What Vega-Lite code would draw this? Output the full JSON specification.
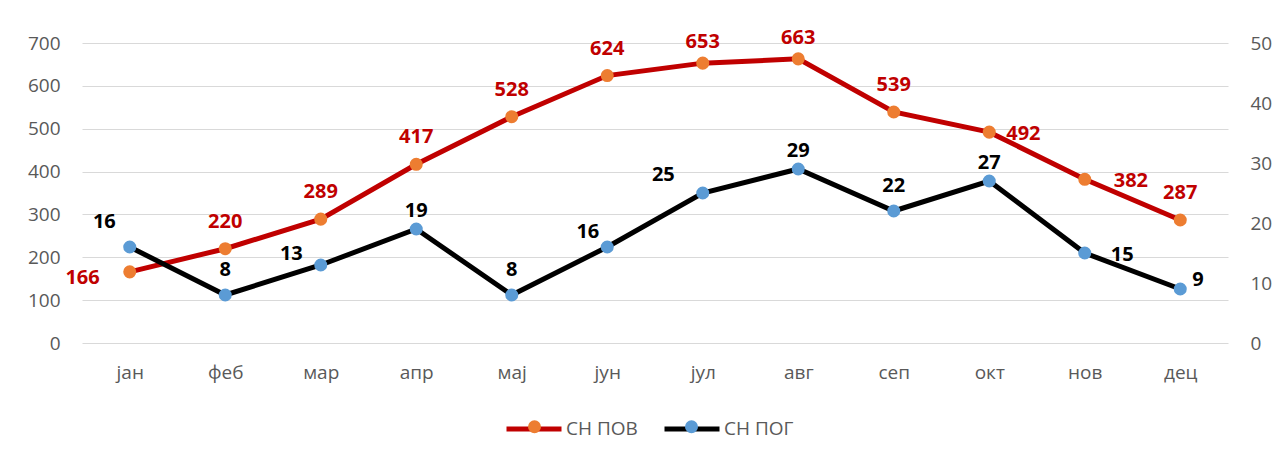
{
  "$schema": "https://vega.github.io/schema/vega-lite/v6.json",
  "width": 1146,
  "height": 300,
  "autosize": {"type": "none"},
  "padding": {"left": 82, "top": 43, "right": 53, "bottom": 114},
  "background": "white",
  "config": {
    "view": {"stroke": null},
    "font": "Open Sans",
    "axis": {"labelFont": "Open Sans", "labelFontSize": 19, "labelColor": "#595959", "domain": false, "ticks": false, "title": null}
  },
  "data": {"values": [
    {"month": "јан", "series": "СН ПОВ", "value": 166},
    {"month": "феб", "series": "СН ПОВ", "value": 220},
    {"month": "мар", "series": "СН ПОВ", "value": 289},
    {"month": "апр", "series": "СН ПОВ", "value": 417},
    {"month": "мај", "series": "СН ПОВ", "value": 528},
    {"month": "јун", "series": "СН ПОВ", "value": 624},
    {"month": "јул", "series": "СН ПОВ", "value": 653},
    {"month": "авг", "series": "СН ПОВ", "value": 663},
    {"month": "сеп", "series": "СН ПОВ", "value": 539},
    {"month": "окт", "series": "СН ПОВ", "value": 492},
    {"month": "нов", "series": "СН ПОВ", "value": 382},
    {"month": "дец", "series": "СН ПОВ", "value": 287},
    {"month": "јан", "series": "СН ПОГ", "value": 16},
    {"month": "феб", "series": "СН ПОГ", "value": 8},
    {"month": "мар", "series": "СН ПОГ", "value": 13},
    {"month": "апр", "series": "СН ПОГ", "value": 19},
    {"month": "мај", "series": "СН ПОГ", "value": 8},
    {"month": "јун", "series": "СН ПОГ", "value": 16},
    {"month": "јул", "series": "СН ПОГ", "value": 25},
    {"month": "авг", "series": "СН ПОГ", "value": 29},
    {"month": "сеп", "series": "СН ПОГ", "value": 22},
    {"month": "окт", "series": "СН ПОГ", "value": 27},
    {"month": "нов", "series": "СН ПОГ", "value": 15},
    {"month": "дец", "series": "СН ПОГ", "value": 9}
  ]},
  "encoding": {
    "x": {
      "field": "month", "type": "nominal",
      "sort": ["јан", "феб", "мар", "апр", "мај", "јун", "јул", "авг", "сеп", "окт", "нов", "дец"],
      "scale": {"type": "point", "padding": 0.5},
      "axis": {"labelAngle": 0, "labelPadding": 20, "grid": false}
    }
  },
  "layer": [
    {
      "transform": [{"filter": "datum.series === 'СН ПОВ'"}],
      "encoding": {
        "y": {"field": "value", "type": "quantitative",
          "scale": {"domain": [0, 700], "nice": false},
          "axis": {"orient": "left", "values": [0, 100, 200, 300, 400, 500, 600, 700], "grid": true, "gridColor": "#D9D9D9", "gridWidth": 1, "labelPadding": 22}}
      },
      "layer": [
        {
          "mark": {"type": "line", "strokeWidth": 5, "strokeCap": "round"},
          "encoding": {
            "stroke": {"field": "series", "type": "nominal",
              "scale": {"domain": ["СН ПОВ", "СН ПОГ"], "range": ["#C00000", "#000000"]},
              "legend": {"orient": "none", "legendX": 422, "legendY": 356, "direction": "horizontal", "title": null,
                "symbolType": "stroke", "symbolSize": 3025, "symbolStrokeWidth": 5,
                "labelFont": "Open Sans", "labelFontSize": 19, "labelColor": "#595959", "labelOffset": 2, "columnPadding": 16}}
          }
        },
        {
          "mark": {"type": "circle", "size": 170, "opacity": 1},
          "encoding": {
            "fill": {"field": "series", "type": "nominal",
              "scale": {"domain": ["СН ПОГ", "СН ПОВ"], "range": ["#5B9BD5", "#ED7D31"]},
              "legend": {"orient": "none", "legendX": 422, "legendY": 374, "direction": "horizontal", "title": null,
                "values": ["СН ПОВ", "СН ПОГ"],
                "symbolType": "circle", "symbolSize": 170, "symbolStrokeWidth": 0, "symbolOpacity": 1, "symbolOffset": 21,
                "labelFont": "Open Sans", "labelFontSize": 19, "labelColor": "#595959", "labelOpacity": 0, "labelOffset": 24, "columnPadding": 21}}
          }
        },
        {
          "transform": [{"filter": "indexof(['феб','мар','апр','мај','јун','сеп','дец'], datum.month) >= 0"}],
          "mark": {"type": "text", "fontWeight": "bold", "fontSize": 20, "color": "#C00000", "baseline": "middle", "dy": -27},
          "encoding": {"text": {"field": "value"}}
        },
        {
          "transform": [{"filter": "indexof(['јул','авг'], datum.month) >= 0"}],
          "mark": {"type": "text", "fontWeight": "bold", "fontSize": 20, "color": "#C00000", "baseline": "middle", "dy": -21},
          "encoding": {"text": {"field": "value"}}
        },
        {
          "transform": [{"filter": "datum.month === 'јан'"}],
          "mark": {"type": "text", "fontWeight": "bold", "fontSize": 20, "color": "#C00000", "baseline": "middle", "align": "right", "dx": -30, "dy": 6},
          "encoding": {"text": {"field": "value"}}
        },
        {
          "transform": [{"filter": "datum.month === 'окт'"}],
          "mark": {"type": "text", "fontWeight": "bold", "fontSize": 20, "color": "#C00000", "baseline": "middle", "align": "left", "dx": 17, "dy": 2},
          "encoding": {"text": {"field": "value"}}
        },
        {
          "transform": [{"filter": "datum.month === 'нов'"}],
          "mark": {"type": "text", "fontWeight": "bold", "fontSize": 20, "color": "#C00000", "baseline": "middle", "align": "left", "dx": 29, "dy": 2},
          "encoding": {"text": {"field": "value"}}
        }
      ]
    },
    {
      "transform": [{"filter": "datum.series === 'СН ПОГ'"}],
      "encoding": {
        "y": {"field": "value", "type": "quantitative",
          "scale": {"domain": [0, 50], "nice": false},
          "axis": {"orient": "right", "values": [0, 10, 20, 30, 40, 50], "grid": false, "labelPadding": 22, "labelAlign": "left"}}
      },
      "layer": [
        {
          "mark": {"type": "line", "strokeWidth": 5, "strokeCap": "round"},
          "encoding": {"stroke": {"field": "series", "type": "nominal"}}
        },
        {
          "mark": {"type": "circle", "size": 170, "opacity": 1},
          "encoding": {"fill": {"field": "series", "type": "nominal"}}
        },
        {
          "transform": [{"filter": "indexof(['феб','мај','сеп'], datum.month) >= 0"}],
          "mark": {"type": "text", "fontWeight": "bold", "fontSize": 20, "color": "#000000", "baseline": "middle", "dy": -25},
          "encoding": {"text": {"field": "value"}}
        },
        {
          "transform": [{"filter": "indexof(['апр','авг','окт'], datum.month) >= 0"}],
          "mark": {"type": "text", "fontWeight": "bold", "fontSize": 20, "color": "#000000", "baseline": "middle", "dy": -18},
          "encoding": {"text": {"field": "value"}}
        },
        {
          "transform": [{"filter": "datum.month === 'јан'"}],
          "mark": {"type": "text", "fontWeight": "bold", "fontSize": 20, "color": "#000000", "baseline": "middle", "align": "right", "dx": -14, "dy": -25},
          "encoding": {"text": {"field": "value"}}
        },
        {
          "transform": [{"filter": "datum.month === 'мар'"}],
          "mark": {"type": "text", "fontWeight": "bold", "fontSize": 20, "color": "#000000", "baseline": "middle", "align": "right", "dx": -18, "dy": -11},
          "encoding": {"text": {"field": "value"}}
        },
        {
          "transform": [{"filter": "datum.month === 'јун'"}],
          "mark": {"type": "text", "fontWeight": "bold", "fontSize": 20, "color": "#000000", "baseline": "middle", "align": "right", "dx": -8, "dy": -15},
          "encoding": {"text": {"field": "value"}}
        },
        {
          "transform": [{"filter": "datum.month === 'јул'"}],
          "mark": {"type": "text", "fontWeight": "bold", "fontSize": 20, "color": "#000000", "baseline": "middle", "align": "right", "dx": -28, "dy": -18},
          "encoding": {"text": {"field": "value"}}
        },
        {
          "transform": [{"filter": "datum.month === 'нов'"}],
          "mark": {"type": "text", "fontWeight": "bold", "fontSize": 20, "color": "#000000", "baseline": "middle", "align": "left", "dx": 26, "dy": 2},
          "encoding": {"text": {"field": "value"}}
        },
        {
          "transform": [{"filter": "datum.month === 'дец'"}],
          "mark": {"type": "text", "fontWeight": "bold", "fontSize": 20, "color": "#000000", "baseline": "middle", "align": "left", "dx": 12, "dy": -9},
          "encoding": {"text": {"field": "value"}}
        }
      ]
    }
  ],
  "resolve": {"scale": {"y": "independent"}}
}
